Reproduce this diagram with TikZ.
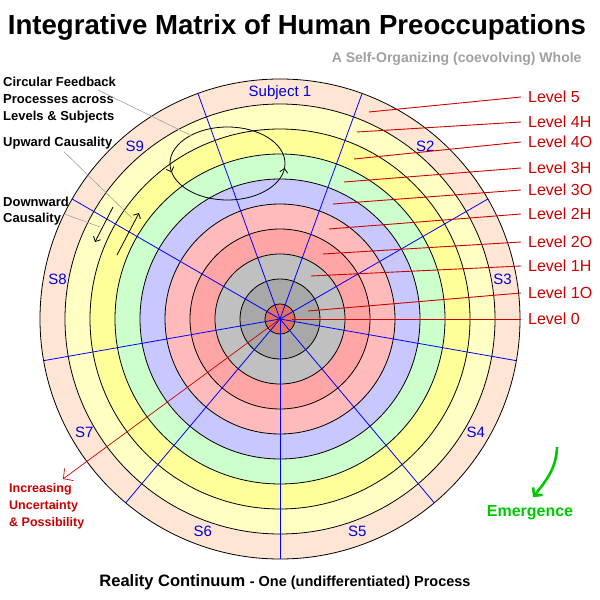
\documentclass[tikz,border=0pt]{standalone}
\usepackage{fontspec}
\setmainfont{Liberation Sans}
\usetikzlibrary{positioning,arrows.meta,decorations.markings}

\definecolor{lvfive}{RGB}{255,230,212}
\definecolor{lvfourh}{RGB}{255,255,196}
\definecolor{lvfouro}{RGB}{255,255,153}
\definecolor{lvthreeh}{RGB}{204,255,204}
\definecolor{lvthreeo}{RGB}{200,200,255}
\definecolor{lvtwoh}{RGB}{255,187,187}
\definecolor{lvtwoo}{RGB}{255,165,165}
\definecolor{lvoneh}{RGB}{192,192,192}
\definecolor{lvoneo}{RGB}{168,168,168}
\definecolor{lvzero}{RGB}{226,114,96}
\definecolor{subjblue}{RGB}{0,0,220}
\definecolor{lvred}{RGB}{204,0,0}
\definecolor{notegray}{RGB}{160,160,160}
\definecolor{emgreen}{RGB}{0,200,0}

\tikzset{
    ring/.style={draw=black,line width=0.8pt},
    spoke/.style={draw=blue,line width=0.8pt},
    subj/.style={text=subjblue,font=\fontsize{15}{15}\selectfont},
    lvl/.style={text=lvred,font=\fontsize{16}{16}\selectfont,anchor=west,inner sep=7pt},
    lvline/.style={draw=lvred,line width=0.9pt},
    note/.style={font=\fontsize{13}{17}\selectfont\bfseries,align=left,inner sep=0pt,anchor=north west},
    pointer/.style={draw=notegray,line width=0.6pt},
    causal/.style={draw=black,line width=0.8pt,-{Straight Barb[length=4pt,width=8pt]}},
}

\begin{document}
\begin{tikzpicture}[x=1pt,y=1pt]
        \useasboundingbox (0,0) rectangle (600,600);
        \coordinate (ctr) at (280,281);
        \foreach \r/\c in {240/lvfive,215/lvfourh,190/lvfouro,165/lvthreeh,140/lvthreeo,115/lvtwoh,90/lvtwoo,65/lvoneh,40/lvoneo,15/lvzero}
            \draw[ring,fill=\c] (ctr) circle (\r);
        \foreach \a in {30,70,...,350}
            \draw[spoke] (ctr) -- ++(\a:240);
        \foreach \a/\t [count=\i] in {90/Subject 1,50/S2,10/S3,-30/S4,-70/S5,-110/S6,-150/S7,170/S8,130/S9}
            \node[subj] (subj\i) at ([shift={(\a:226)}]ctr) {\t};

        \node[font=\fontsize{27.6}{27.6}\selectfont\bfseries] (title) at (297,573) {Integrative Matrix of Human Preoccupations};
        \node[font=\fontsize{14}{14}\selectfont\bfseries,text=notegray,anchor=east] (subtitle) at (585,541) {A Self-Organizing (coevolving) Whole};

        \foreach \n/\t/\y/\sx/\sy in {five/5/503/369/488,fourh/4H/478/357/468,fouro/4O/458/354/441,threeh/3H/432/344/418,threeo/3O/410/333/396,twoh/2H/386/329/371,twoo/2O/358/323/346,oneh/1H/334/311/324,oneo/1O/307/308/289,zero/0/281/292/281}
        {
            \node[lvl] (lv\n) at (521,\y) {Level \t};
            \coordinate (lv\n-in) at (\sx,\sy);
            \draw[lvline] (lv\n-in) -- (lv\n.west);
        }

        \node[note] (feedback) at (3,523) {Circular Feedback\\Processes across\\Levels \& Subjects};
        \node[note] (upward) at (3,463) {Upward Causality};
        \node[note,font=\fontsize{13}{16}\selectfont\bfseries] (downward) at (3,403) {Downward\\Causality};

        \coordinate (loop) at (227.5,436.5);
        \draw[black,line width=0.8pt,postaction={decorate},decoration={markings,
            mark=at position 0.53 with {\arrow{Straight Barb[length=4pt,width=8pt]}},
            mark=at position 0.985 with {\arrow{Straight Barb[length=4pt,width=8pt]}}}]
            (loop) ellipse [x radius=57.5,y radius=36.5];
        \coordinate (loop-tip) at (192,464);
        \draw[pointer] (98,510) -- (loop-tip);

        \coordinate (down-a) at (113,393);
        \coordinate (down-b) at (95,358);
        \coordinate (up-a) at (117,345);
        \coordinate (up-b) at (139,387);
        \draw[causal] (down-a) -- (down-b);
        \draw[causal] (up-a) -- (up-b);
        \draw[pointer] ([xshift=6pt,yshift=-2pt]upward.south) -- (132,382);
        \draw[pointer] ([xshift=-4pt,yshift=-3pt]downward.east) -- (100,373);

        \node[note,text=lvred,font=\fontsize{12.5}{17}\selectfont\bfseries] (uncert) at (9,117) {Increasing\\Uncertainty\\\& Possibility};
        \coordinate (uncert-tip) at (63,121);
        \draw[draw=lvred,line width=0.7pt,-{Straight Barb[length=7pt,width=15pt]}] (ctr) -- (uncert-tip);

        \node[font=\fontsize{16}{16}\selectfont\bfseries,text=emgreen] (emerge) at (530,87) {Emergence};
        \coordinate (emerge-top) at (557,153);
        \draw[draw=emgreen,line width=2.6pt,-{Straight Barb[length=6pt,width=12pt]}] (emerge-top) to[out=-92,in=52] ([xshift=3pt,yshift=5pt]emerge.north);

        \node (continuum) at (285,18) {\fontsize{16.5}{16.5}\selectfont\bfseries Reality Continuum \fontsize{14.5}{14.5}\selectfont - One (undifferentiated) Process};
\end{tikzpicture}
\end{document}
